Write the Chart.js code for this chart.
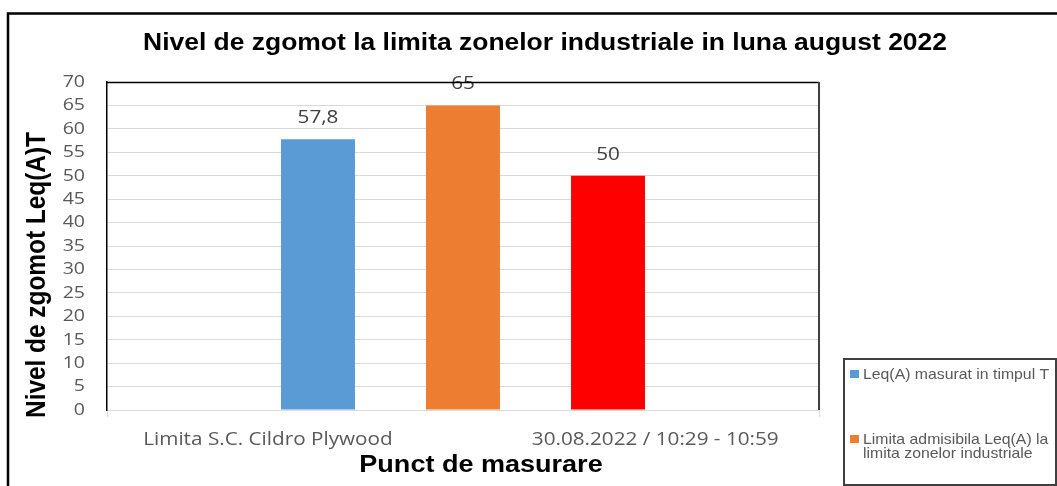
<!DOCTYPE html>
<html>
<head>
<meta charset="utf-8">
<script src="https://cdn.jsdelivr.net/npm/chart.js@4/dist/chart.umd.min.js"></script>
<style>
  html, body { margin: 0; padding: 0; background: #fff; }
  #wrap { position: relative; width: 1057px; height: 486px; }
</style>
</head>
<body>
<div id="wrap"><canvas id="c"></canvas></div>
<script>
// ---- data ----
const chartTitle = 'Nivel de zgomot la limita zonelor industriale in luna august 2022';
const yAxisTitle = 'Nivel de zgomot Leq(A)T';
const xAxisTitle = 'Punct de masurare';
const categoryParts = ['Limita S.C. Cildro Plywood', '30.08.2022 / 10:29 - 10:59'];
const categories = [categoryParts.join(' ')];
const seriesNames = [
  'Leq(A) masurat in timpul T',
  'Limita admisibila Leq(A) la limita zonelor industriale',
  'Limita admisibila Leq(A) la limita zonelor rezidentiale'
];
const seriesValues = [57.8, 65, 50];
const yMin = 0, yMax = 70, yStep = 5;

// ---- styles ----
const seriesColors = ['#5B9BD5', '#ED7D31', '#FF0000'];
const SX = 1.15; // horizontal text stretch of the original picture

function sText(ctx, text, x, y, font, color, align, sx) {
  ctx.save();
  ctx.font = font;
  ctx.fillStyle = color;
  ctx.textAlign = align;
  ctx.textBaseline = 'alphabetic';
  ctx.translate(x, y);
  ctx.scale(sx, 1);
  ctx.fillText(text, 0, 0);
  ctx.restore();
}

const decorPlugin = {
  id: 'decor',
  beforeDraw(chart) {
    const s = chart.scales.y;
    if (!s._stretched) {
      const orig = s.drawLabels;
      s.drawLabels = function (area) {
        const ctx = this.ctx;
        const ax = this.right - this.options.ticks.padding;
        ctx.save();
        ctx.translate(ax, 0); ctx.scale(SX, 1); ctx.translate(-ax, 0);
        orig.call(this, area);
        ctx.restore();
      };
      s._stretched = true;
    }
  },
  afterDatasetsDraw(chart) {
    const ctx = chart.ctx;
    chart.data.datasets.forEach((ds, i) => {
      const meta = chart.getDatasetMeta(i);
      meta.data.forEach((bar, j) => {
        const txt = String(ds.data[j]).replace('.', ',');
        sText(ctx, txt, bar.x, bar.y - 16, '18px "Open Sans"', '#404040', 'center', SX);
      });
    });
  },
  afterDraw(chart) {
    const ctx = chart.ctx;
    const a = chart.chartArea;
    ctx.save();
    // outer chart border
    ctx.strokeStyle = '#000';
    ctx.lineWidth = 2.5;
    ctx.beginPath();
    ctx.moveTo(8, 490); ctx.lineTo(8, 13.5); ctx.lineTo(1060, 13.5);
    ctx.stroke();
    // plot area top and right border
    ctx.lineWidth = 1.5;
    ctx.strokeStyle = '#000';
    ctx.beginPath();
    ctx.moveTo(a.left, a.top + 0.5); ctx.lineTo(a.right, a.top + 0.5);
    ctx.stroke();
    ctx.lineWidth = 2;
    ctx.strokeStyle = '#404040';
    ctx.beginPath();
    ctx.moveTo(a.right, a.top); ctx.lineTo(a.right, a.bottom);
    ctx.stroke();
    ctx.restore();

    // chart title
    sText(ctx, chartTitle, 545, 50, 'bold 23px "Liberation Sans"', '#000', 'center', SX);
    // x axis title
    sText(ctx, xAxisTitle, 481, 472, 'bold 23.5px "Liberation Sans"', '#000', 'center', SX);
    // y axis title (rotated)
    ctx.save();
    ctx.font = 'bold 24.4px "Liberation Sans"';
    ctx.fillStyle = '#000';
    ctx.textAlign = 'center';
    ctx.textBaseline = 'alphabetic';
    ctx.translate(45, 275);
    ctx.scale(SX, 1);
    ctx.rotate(-Math.PI / 2);
    ctx.fillText(yAxisTitle, 0, 0);
    ctx.restore();

    // category label parts
    const w = a.right - a.left;
    const partPos = [0.226, 0.77];
    categoryParts.forEach((t, i) => {
      sText(ctx, t, a.left + partPos[i] * w, 445, '18px "Open Sans"', '#595959', 'center', SX);
    });

    // legend box
    const box = { l: 843, t: 358, r: 1056, b: 485 };
    ctx.save();
    ctx.strokeStyle = '#404040';
    ctx.lineWidth = 2;
    ctx.strokeRect(box.l + 1, box.t + 1, box.r - box.l - 1, box.b - box.t - 1);
    ctx.restore();
    const lsx = 1.09;
    const lfont = '14.5px "Liberation Sans"';
    const maxW = (box.r - 6 - 863) / lsx;
    ctx.save();
    ctx.font = lfont;
    chart.data.datasets.forEach((ds, i) => {
      const base = 379 + i * 65;
      if (base > box.b - 10) return;
      // wrap
      const words = ds.label.split(' ');
      const lines = [];
      let cur = '';
      words.forEach(wd => {
        const test = cur ? cur + ' ' + wd : wd;
        if (ctx.measureText(test).width > maxW && cur) { lines.push(cur); cur = wd; }
        else cur = test;
      });
      if (cur) lines.push(cur);
      ctx.fillStyle = ds.backgroundColor;
      ctx.fillRect(850, base - 9, 9, 8);
      lines.forEach((ln, k) => {
        if (base + k * 13.5 < box.b - 3) sText(ctx, ln, 863, base + k * 13.5, lfont, '#595959', 'left', lsx);
      });
    });
    ctx.restore();
  }
};

const datasets = seriesNames.map((name, i) => ({
  label: name,
  data: [seriesValues[i]],
  backgroundColor: seriesColors[i],
  borderWidth: 0,
  categoryPercentage: 0.611,
  barPercentage: 0.51
}));

new Chart(document.getElementById('c'), {
  type: 'bar',
  data: { labels: categories, datasets },
  options: {
    responsive: true,
    maintainAspectRatio: false,
    animation: false,
    layout: { padding: { top: 82, right: 238, bottom: 0, left: 0 } },
    plugins: { legend: { display: false }, title: { display: false }, tooltip: { enabled: false } },
    scales: {
      x: {
        type: 'category',
        offset: true,
        ticks: { display: false },
        grid: { drawOnChartArea: false, drawTicks: true, tickLength: 7, color: '#d9d9d9', offset: true },
        border: { display: false },
        afterFit(scale) { scale.height = 76; }
      },
      y: {
        min: yMin,
        max: yMax,
        ticks: { stepSize: yStep, padding: 22, color: '#595959', font: { family: 'Open Sans', size: 17 } },
        grid: { color: '#d9d9d9', lineWidth: 1, drawTicks: false },
        border: { display: true, color: '#000', width: 1.5 },
        afterFit(scale) { scale.width = 107; }
      }
    }
  },
  plugins: [decorPlugin]
});
</script>
</body>
</html>
